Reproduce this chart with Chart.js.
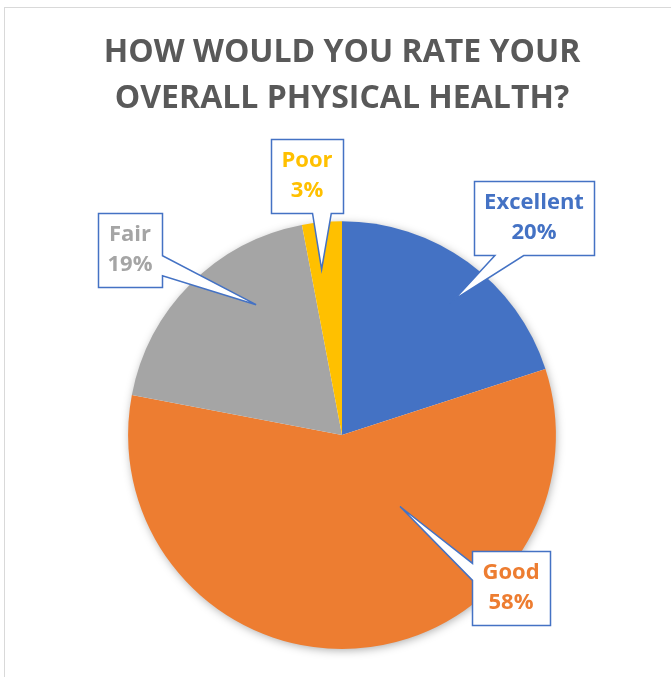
<!DOCTYPE html>
<html>
<head>
<meta charset="utf-8">
<script src="https://cdn.jsdelivr.net/npm/chart.js@4.4.1/dist/chart.umd.min.js"></script>
<style>
  html, body { margin: 0; padding: 0; background: #fff; }
  #wrap { width: 671px; height: 677px; position: relative; }
</style>
</head>
<body>
<div id="wrap"><canvas id="grafico" width="671" height="677"></canvas></div>
<script>
// datos
const categorias = ['Excellent', 'Good', 'Fair', 'Poor'];
const porcentajes = [20, 58, 19, 3];
const colores = ['#4472C4', '#ED7D31', '#A5A5A5', '#FFC000'];
const titulo = ['HOW WOULD YOU RATE YOUR', 'OVERALL PHYSICAL HEALTH?'];

// ubicacion de las etiquetas tipo globo (relativas al centro del pie)
const globos = [
  { dx: 192, dy: -217, lado: 'bottom', base: [0.17, 0.41], frac: 0.55, rad: 0.82 },
  { dx: 169, dy: 153,  lado: 'left',   base: [0.16, 0.39], frac: 0.33, rad: 0.43 },
  { dx: -212, dy: -185, lado: 'right', base: [0.57, 0.84], frac: 0.67, rad: 0.73 },
  { dx: -35, dy: -259, lado: 'bottom', base: [0.57, 0.83], frac: 0.35, rad: 0.78 }
];

const FUENTE = '"Open Sans", sans-serif';

const marcoPlugin = {
  id: 'marco',
  beforeDraw(chart) {
    const ctx = chart.ctx;
    ctx.save();
    ctx.strokeStyle = '#D9D9D9';
    ctx.lineWidth = 1;
    ctx.strokeRect(4.5, 7.5, 720, 720);
    ctx.restore();
  },
  beforeDatasetsDraw(chart) {
    // sombra suave del pie
    const arc = chart.getDatasetMeta(0).data[0];
    if (!arc) return;
    const ctx = chart.ctx;
    ctx.save();
    ctx.shadowColor = 'rgba(0,0,0,0.35)';
    ctx.shadowBlur = 10;
    ctx.shadowOffsetX = 1;
    ctx.shadowOffsetY = 2;
    ctx.fillStyle = '#ffffff';
    ctx.beginPath();
    ctx.arc(arc.x, arc.y, arc.outerRadius - 1, 0, Math.PI * 2);
    ctx.fill();
    ctx.restore();
  }
};

const globosPlugin = {
  id: 'globos',
  afterDatasetsDraw(chart) {
    const ctx = chart.ctx;
    const meta = chart.getDatasetMeta(0);
    ctx.save();
    ctx.font = 'bold 22px ' + FUENTE;
    meta.data.forEach((arc, i) => {
      const g = globos[i];
      const lineas = [categorias[i], porcentajes[i] + '%'];
      const ancho = Math.max(...lineas.map(l => ctx.measureText(l).width)) + 20;
      const alto = 74;
      const cx = arc.x + g.dx, cy = arc.y + g.dy;
      const x0 = Math.round(cx - ancho / 2) + 0.5, x1 = Math.round(cx + ancho / 2) + 0.5;
      const y0 = Math.round(cy - alto / 2) + 0.5, y1 = Math.round(cy + alto / 2) + 0.5;

      const ang = arc.startAngle + (arc.endAngle - arc.startAngle) * g.frac;
      const tx = arc.x + Math.cos(ang) * arc.outerRadius * g.rad;
      const ty = arc.y + Math.sin(ang) * arc.outerRadius * g.rad;

      ctx.beginPath();
      ctx.moveTo(x0, y0);
      ctx.lineTo(x1, y0);
      if (g.lado === 'right') {
        ctx.lineTo(x1, y0 + (y1 - y0) * g.base[0]);
        ctx.lineTo(tx, ty);
        ctx.lineTo(x1, y0 + (y1 - y0) * g.base[1]);
      }
      ctx.lineTo(x1, y1);
      if (g.lado === 'bottom') {
        ctx.lineTo(x0 + (x1 - x0) * g.base[1], y1);
        ctx.lineTo(tx, ty);
        ctx.lineTo(x0 + (x1 - x0) * g.base[0], y1);
      }
      ctx.lineTo(x0, y1);
      if (g.lado === 'left') {
        ctx.lineTo(x0, y0 + (y1 - y0) * g.base[1]);
        ctx.lineTo(tx, ty);
        ctx.lineTo(x0, y0 + (y1 - y0) * g.base[0]);
      }
      ctx.closePath();
      ctx.fillStyle = '#ffffff';
      ctx.fill();
      ctx.strokeStyle = '#4472C4';
      ctx.lineWidth = 1.5;
      ctx.lineJoin = 'miter';
      ctx.stroke();

      ctx.fillStyle = colores[i];
      ctx.textAlign = 'center';
      ctx.textBaseline = 'middle';
      ctx.fillText(lineas[0], cx, cy - 15);
      ctx.fillText(lineas[1], cx, cy + 15);
    });
    ctx.restore();
  }
};

new Chart(document.getElementById('grafico').getContext('2d'), {
  type: 'pie',
  data: {
    labels: categorias,
    datasets: [{
      data: porcentajes,
      backgroundColor: colores,
      borderWidth: 0
    }]
  },
  options: {
    responsive: false,
    animation: false,
    layout: { padding: { left: 14, right: 1, top: 0, bottom: 28 } },
    plugins: {
      legend: { display: false },
      tooltip: { enabled: false },
      title: {
        display: true,
        text: titulo,
        color: '#595959',
        font: { family: FUENTE, size: 32, weight: 'bold', lineHeight: 1.44 },
        padding: { top: 30, bottom: 99 }
      }
    }
  },
  plugins: [marcoPlugin, globosPlugin]
});
</script>
</body>
</html>
